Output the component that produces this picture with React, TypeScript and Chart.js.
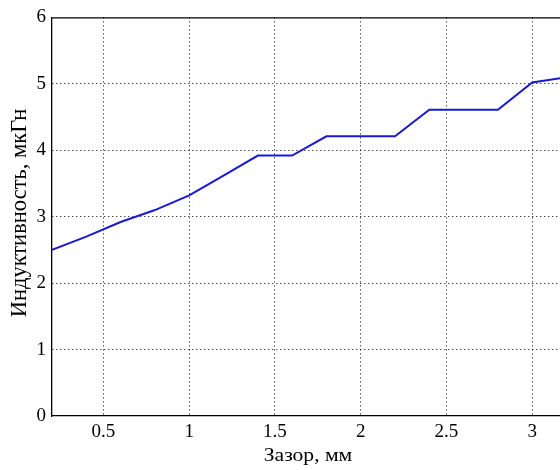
import React, { useEffect, useRef } from "react";
import { Chart, registerables } from "chart.js";

Chart.register(...registerables);

const gapMm = [0.2, 0.4, 0.6, 0.8, 1.0, 1.2, 1.4, 1.6, 1.8, 2.0, 2.2, 2.4, 2.6, 2.8, 3.0, 3.2];
const inductance = [2.5, 2.7, 2.92, 3.1, 3.32, 3.62, 3.92, 3.92, 4.21, 4.21, 4.21, 4.61, 4.61, 4.61, 5.02, 5.1];
const xTicks = [0.5, 1, 1.5, 2, 2.5, 3];
const xTitle = "Зазор, мм";
const yTitle = "Индуктивность, мкГн";

const FONT = "'Liberation Serif', 'Times New Roman', serif";

const frame = {
  id: "frame",
  afterDraw(chart: any) {
    const { ctx, chartArea } = chart;
    ctx.save();
    ctx.strokeStyle = "#000";
    ctx.lineWidth = 1.3;
    ctx.beginPath();
    ctx.moveTo(chartArea.left, chartArea.top + 0.5);
    ctx.lineTo(chartArea.right, chartArea.top + 0.5);
    ctx.stroke();

    ctx.fillStyle = "#000";
    ctx.textAlign = "center";
    ctx.textBaseline = "middle";

    ctx.save();
    ctx.translate(308, 456);
    ctx.scale(1.2, 1);
    ctx.font = "18px " + FONT;
    ctx.fillText(xTitle, 0, 0);
    ctx.restore();

    ctx.save();
    ctx.translate(20, 213);
    ctx.rotate(-Math.PI / 2);
    ctx.font = "22.5px " + FONT;
    ctx.fillText(yTitle, 0, 0);
    ctx.restore();
    ctx.restore();
  },
};

export default function App() {
  const ref = useRef<HTMLCanvasElement>(null);
  useEffect(() => {
    const chart = new Chart(ref.current!, {
      type: "line",
      data: {
        datasets: [
          {
            data: gapMm.map((x, i) => ({ x, y: inductance[i] })),
            borderColor: "#1a1ad2",
            borderWidth: 2,
            pointRadius: 0,
            tension: 0,
            fill: false,
          },
        ],
      },
      plugins: [frame],
      options: {
        animation: false,
        responsive: false,
        maintainAspectRatio: false,
        layout: { padding: { top: 14, right: 0, left: 0, bottom: 0 } },
        plugins: { legend: { display: false }, tooltip: { enabled: false } },
        scales: {
          x: {
            type: "linear",
            min: 0.2,
            max: 3.162,
            afterBuildTicks: (s: any) => {
              s.ticks = xTicks.map((v) => ({ value: v }));
            },
            afterFit: (s: any) => {
              s.height = 54;
            },
            ticks: {
              color: "#000",
              font: { family: FONT, size: 19 },
              padding: 5,
              maxRotation: 0,
              callback: (v: any) => String(v),
            },
            grid: { color: "#000", lineWidth: 1, tickLength: 0, drawTicks: false },
            border: { display: true, color: "#000", width: 1.3, dash: [1, 3] },
            title: { display: false },
          },
          y: {
            min: 0,
            max: 6,
            afterFit: (s: any) => {
              s.width = 52;
            },
            ticks: {
              stepSize: 1,
              color: "#000",
              font: { family: FONT, size: 19 },
              padding: 6,
            },
            grid: {
              color: (c: any) => (c.tick && (c.tick.value === 0 || c.tick.value === 6) ? "rgba(0,0,0,0)" : "#000"),
              lineWidth: 1,
              drawTicks: false,
              tickLength: 0,
            },
            border: { display: true, color: "#000", width: 1.3, dash: [1, 3] },
            title: { display: false },
          },
        },
      },
    });
    return () => chart.destroy();
  }, []);
  return (
    <div style={{ position: "absolute", left: 0, top: 0, width: 560, height: 470, background: "#fff" }}>
      <canvas ref={ref} width={560} height={470} style={{ width: 560, height: 470 }} />
    </div>
  );
}
